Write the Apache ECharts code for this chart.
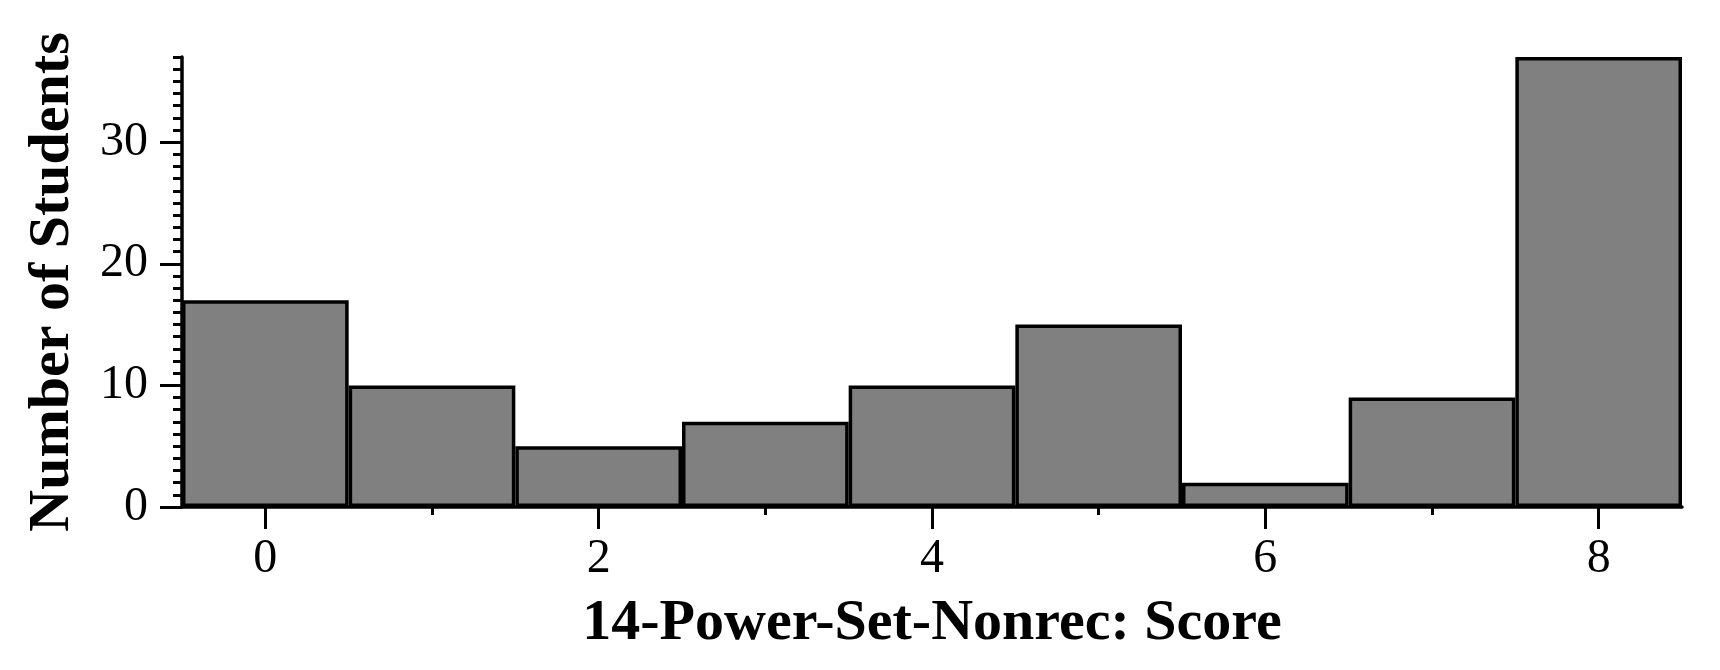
<!DOCTYPE html>
<html>
<head>
<meta charset="utf-8">
<script src="https://cdn.jsdelivr.net/npm/echarts@6/dist/echarts.min.js"></script>
<style>
html,body{margin:0;padding:0;background:#fff;}
#chart{width:1720px;height:670px;}
</style>
</head>
<body>
<div id="chart"></div>
<script>
const categories = ['0','1','2','3','4','5','6','7','8'];
const counts = [17, 10, 5, 7, 10, 15, 2, 9, 37];
const yTickValues = [0, 10, 20, 30];
const xTitle = '14-Power-Set-Nonrec: Score';
const yTitle = 'Number of Students';

const FONT = 'Liberation Serif';
const chart = echarts.init(document.getElementById('chart'), null, {renderer: 'canvas'});
chart.setOption({
  animation: false,
  backgroundColor: '#fff',
  grid: {left: 182, right: 38, top: 57, bottom: 163, containLabel: false},
  xAxis: [{
    type: 'category',
    data: categories,
    position: 'bottom',
    boundaryGap: true,
    axisLine: {show: true, lineStyle: {color: '#000', width: 3.5}},
    axisTick: {show: true, alignWithLabel: true, length: 22, lineStyle: {color: '#000', width: 3},
      interval: function (i) { return i % 2 === 0; }},
    axisLabel: {show: true, margin: 28, color: '#000', fontFamily: FONT, fontSize: 48,
      interval: function (i) { return i % 2 === 0; }},
    splitLine: {show: false},
    name: xTitle,
    nameLocation: 'middle',
    nameGap: 88,
    nameTextStyle: {color: '#000', fontFamily: FONT, fontSize: 58, fontWeight: 'bold'}
  }, {
    type: 'category',
    data: categories,
    position: 'bottom',
    boundaryGap: true,
    axisLine: {show: false},
    axisTick: {show: true, alignWithLabel: true, length: 8, lineStyle: {color: '#000', width: 3},
      interval: function (i) { return i % 2 === 1; }},
    axisLabel: {show: false},
    splitLine: {show: false}
  }],
  yAxis: [{
    type: 'value',
    position: 'left',
    min: 0,
    max: 37,
    interval: 10,
    axisLine: {show: true, lineStyle: {color: '#000', width: 3.5}},
    axisTick: {show: true, length: 22, lineStyle: {color: '#000', width: 3}, customValues: yTickValues},
    axisLabel: {show: true, margin: 34, color: '#000', fontFamily: FONT, fontSize: 48, customValues: yTickValues},
    splitLine: {show: false},
    name: yTitle,
    nameLocation: 'middle',
    nameGap: 100,
    nameTextStyle: {color: '#000', fontFamily: FONT, fontSize: 58, fontWeight: 'bold'}
  }, {
    type: 'value',
    position: 'left',
    min: 0,
    max: 37,
    interval: 1,
    axisLine: {show: false},
    axisTick: {show: true, length: 9, lineStyle: {color: '#000', width: 3}},
    axisLabel: {show: false},
    splitLine: {show: false}
  }],
  series: [{
    type: 'bar',
    xAxisIndex: 0,
    yAxisIndex: 0,
    data: counts,
    barCategoryGap: '0%',
    itemStyle: {color: '#808080', borderColor: '#000', borderWidth: 3.5}
  }]
});
</script>
</body>
</html>
